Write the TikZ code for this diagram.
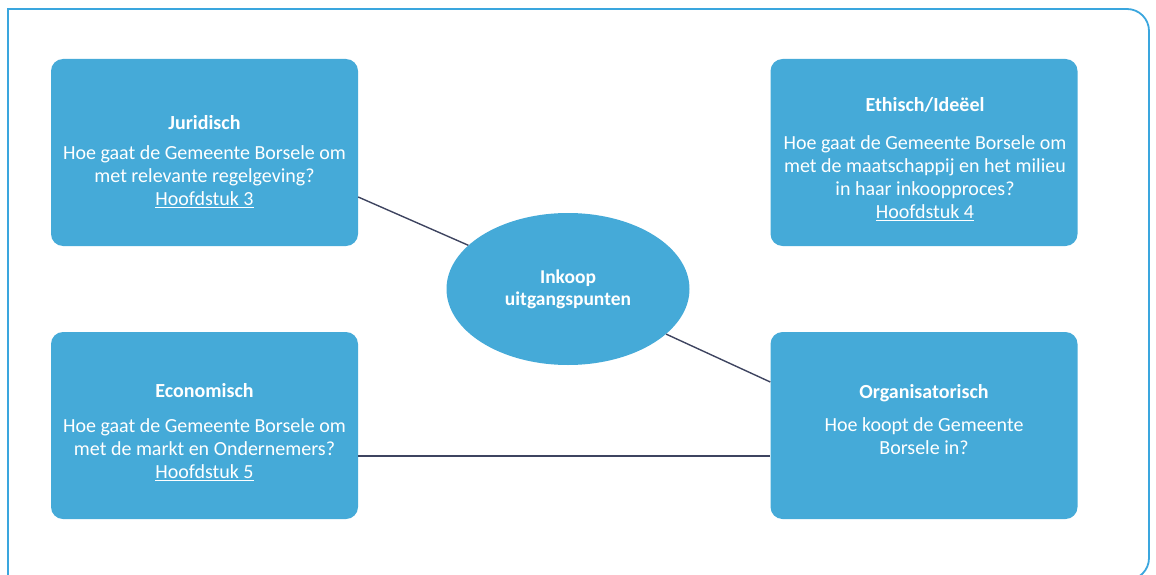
\documentclass[tikz,border=0pt]{standalone}
\usepackage{fontspec}
\setmainfont{Carlito}
\usetikzlibrary{shapes.geometric}
\definecolor{tegel}{HTML}{45AAD8}
\definecolor{lijn}{HTML}{3E4460}
\definecolor{kader}{HTML}{3AA6DE}

\begin{document}
\begin{tikzpicture}[x=1pt,y=1pt,yscale=-1,
    tegel/.style={draw=none,fill=tegel,rounded corners=12pt,minimum width=307pt,minimum height=187pt,inner sep=0pt},
    kern/.style={ellipse,draw=none,fill=tegel,minimum width=243pt,minimum height=152pt,inner sep=0pt,text=white,font=\fontsize{19.5}{22}\selectfont,align=center},
    tekst/.style={text=white,font=\fontsize{20}{23}\selectfont,align=center,inner sep=0pt},
    verbind/.style={draw=lijn,line width=1.4pt}]
        \useasboundingbox (0,0) rectangle (1156,575);
        
        %Shape: Frame
        \draw [draw=kader,line width=1.8pt] (8,585) -- (8,9) [rounded corners=22pt] -- (1149,9) -- (1149,580) -- (1000,580) ;
        
        %Shape: Rounded Rect
        \node [tegel] (jur) at (204.5,152.5) {};
        %Shape: Rounded Rect
        \node [tegel] (eth) at (924,152.5) {};
        %Shape: Rounded Rect
        \node [tegel] (eco) at (204.5,425.5) {};
        %Shape: Rounded Rect
        \node [tegel] (org) at (924,425.5) {};
        %Shape: Ellipse
        \node [kern] (inkoop) at (568,289) {\textbf{Inkoop}\\\textbf{uitgangspunten}};
        
        %Straight Lines
        \draw [verbind] ([yshift=44.5pt]jur.east) -- (inkoop) ;
        %Straight Lines
        \draw [verbind] (inkoop) -- ([yshift=-43.5pt]org.west) ;
        %Straight Lines
        \draw [verbind] ([yshift=30.5pt]eco.east) -- ([yshift=30.5pt]org.west) ;
        
        % Text Node
        \node [tekst] (jurtekst) at (204.5,162) {\textbf{Juridisch}\\[7pt]Hoe gaat de Gemeente Borsele om\\met relevante regelgeving?\\\underline{Hoofdstuk 3}};
        % Text Node
        \node [tekst] (ethtekst) at (925,159) {\textbf{Ethisch/Ideëel}\\[15pt]Hoe gaat de Gemeente Borsele om\\met de maatschappij en het milieu\\in haar inkoopproces?\\\underline{Hoofdstuk 4}};
        % Text Node
        \node [tekst] (ecotekst) at (204.5,432) {\textbf{Economisch}\\[12pt]Hoe gaat de Gemeente Borsele om\\met de markt en Ondernemers?\\\underline{Hoofdstuk 5}};
        % Text Node
        \node [tekst] (orgtekst) at (924,419.5) {\textbf{Organisatorisch}\\[10pt]Hoe koopt de Gemeente\\Borsele in?};
        
\end{tikzpicture}
\end{document}
